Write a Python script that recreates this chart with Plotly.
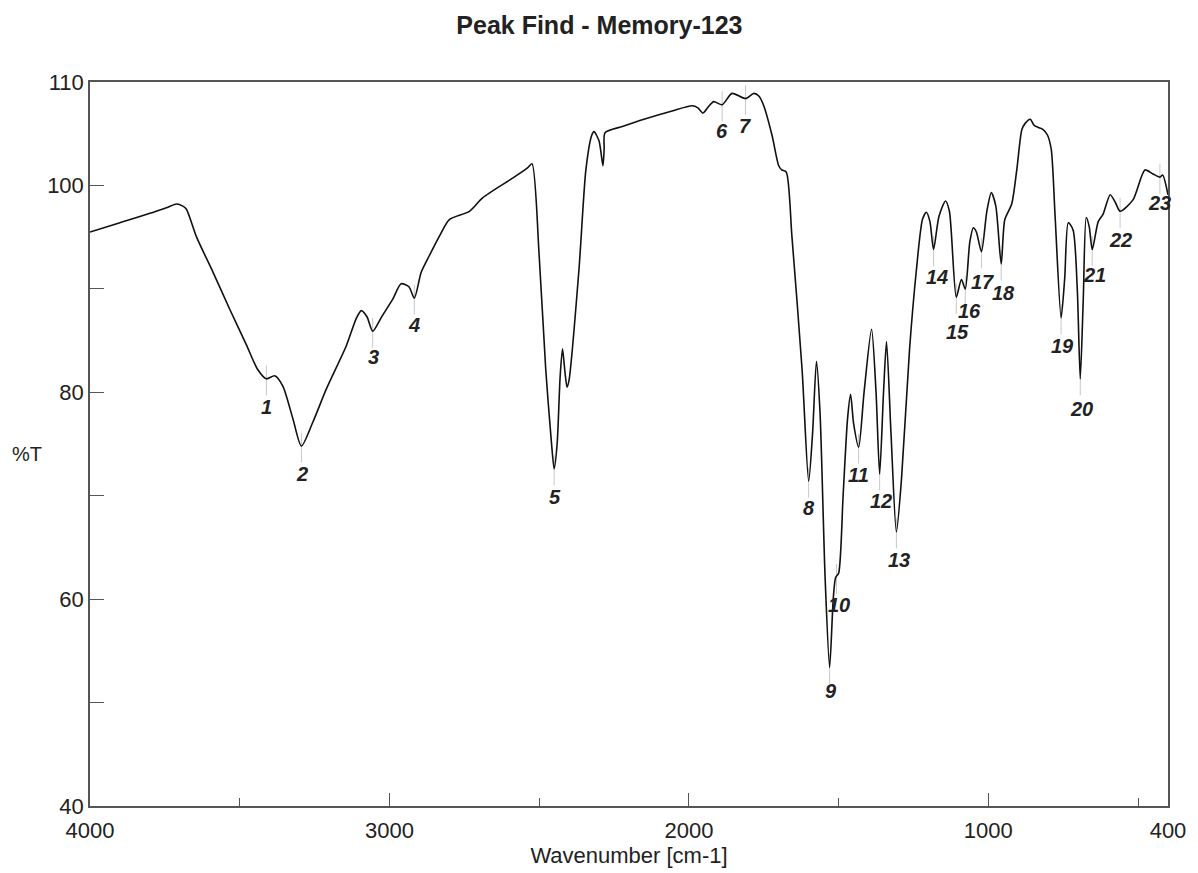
import plotly.graph_objects as go

wavenumber = [4000, 3900, 3800, 3740, 3711, 3690, 3678, 3644, 3589, 3533, 3478, 3440, 3411, 3383, 3356,
              3322, 3294, 3256, 3211, 3144, 3110, 3094, 3075, 3056, 3028, 2989, 2961, 2935, 2917, 2894,
              2867, 2833, 2800, 2733, 2689, 2589, 2539, 2524, 2500, 2478, 2460, 2450, 2440, 2430, 2422,
              2414, 2407, 2400, 2367, 2344, 2325, 2317, 2300, 2287, 2283, 2280, 2222, 2150, 2056, 1989,
              1970, 1953, 1935, 1917, 1889, 1856, 1811, 1783, 1765, 1750, 1722, 1700, 1690, 1675, 1656,
              1622, 1600, 1587, 1574, 1562, 1545, 1530, 1518, 1510, 1500, 1485, 1470, 1460, 1450, 1433,
              1415, 1390, 1375, 1363, 1350, 1340, 1325, 1307, 1290, 1263, 1240, 1220, 1207, 1195, 1183,
              1165, 1143, 1130, 1107, 1090, 1077, 1062, 1050, 1040, 1023, 1005, 990, 975, 957, 945,
              922, 905, 888, 877, 860, 847, 833, 817, 803, 790, 777, 757, 745, 733, 717,
              703, 693, 683, 673, 663, 653, 633, 617, 593, 575, 560, 517, 477, 450, 427,
              418, 400]
transmittance = [95.5, 96.4, 97.3, 97.9, 98.2, 98.0, 97.7, 95.0, 91.6, 88.0, 84.6, 82.2, 81.3, 81.6, 80.6,
                 77.4, 74.8, 77.1, 80.3, 84.5, 87.2, 87.9, 87.3, 85.9, 87.2, 89.0, 90.5, 90.2, 89.1, 91.6,
                 93.2, 95.1, 96.7, 97.5, 98.8, 100.7, 101.7, 102.1, 93.2, 82.2, 75.5, 72.6, 75.0, 81.5, 84.2,
                 82.0, 80.5, 81.2, 91.9, 101.5, 104.8, 105.2, 104.3, 101.9, 103.5, 105.1, 105.7, 106.4, 107.2, 107.7,
                 107.5, 107.0, 107.6, 108.1, 107.8, 108.9, 108.4, 108.9, 108.6, 107.7, 104.8, 101.9, 101.5, 101.3, 95.1,
                 82.2, 71.4, 76.0, 83.0, 78.0, 62.0, 53.4, 60.0, 62.1, 62.5, 70.0, 77.5, 79.8, 77.0, 74.7,
                 80.0, 86.1, 80.0, 72.1, 80.0, 84.9, 76.0, 66.5, 71.6, 84.2, 91.9, 96.7, 97.4, 96.5, 93.8,
                 97.0, 98.5, 97.5, 89.2, 90.9, 90.0, 94.5, 95.9, 95.5, 93.6, 97.5, 99.3, 98.0, 92.4, 96.7,
                 98.2, 101.5, 105.4, 106.0, 106.4, 105.8, 105.6, 105.4, 104.9, 103.5, 97.0, 87.2, 91.0, 96.4, 95.7,
                 90.0, 81.3, 89.0, 96.9, 96.0, 93.8, 96.5, 97.2, 99.1, 98.3, 97.5, 98.6, 101.5, 101.1, 100.8,
                 101.0, 99.1]

peak_labels = [str(i) for i in range(1, 24)]
peak_wn = [3411, 3294, 3056, 2917, 2450, 1889, 1811, 1600, 1530, 1507, 1433, 1363, 1307, 1183, 1107,
           1077, 1023, 957, 757, 693, 653, 560, 427]
peak_val = [81.3, 74.8, 85.9, 89.1, 72.6, 107.8, 108.4, 71.4, 53.4, 62.1, 74.7, 72.1, 66.5, 93.8, 89.2,
            90.0, 93.6, 92.4, 87.2, 81.3, 93.8, 97.5, 100.8]
label_wn = [3410, 3293, 3053, 2917, 2447, 1890, 1813, 1600, 1527, 1500, 1433, 1360, 1300, 1173, 1103,
            1063, 1020, 950, 753, 690, 647, 557, 427]
label_val = [78.6, 72.1, 83.4, 86.5, 69.9, 105.3, 105.7, 68.8, 51.1, 59.4, 72.0, 69.5, 63.8, 91.1, 85.8,
             87.9, 90.7, 89.6, 84.5, 78.4, 91.3, 94.7, 98.3]

x_tick_vals = [4000, 3000, 2000, 1000, 400]
y_tick_vals = [110, 100, 90, 80, 70, 60, 50, 40]
y_tick_text = ["110", "100", "", "80", "", "60", "", "40"]

fig = go.Figure()
fig.add_trace(go.Scatter(
    x=wavenumber, y=transmittance, mode="lines",
    line=dict(color="#111111", width=1.6, shape="spline", smoothing=0.7),
    hoverinfo="skip", showlegend=False,
))

shapes = []
for wn, v in zip(peak_wn, peak_val):
    shapes.append(dict(type="line", xref="x", yref="y", x0=wn, x1=wn, y0=v + 1.3, y1=v - 1.6,
                       line=dict(color="#c8c8c8", width=1), layer="below"))

fig.update_layout(
    width=1190, height=865,
    margin=dict(l=82, r=26, t=74, b=66),
    paper_bgcolor="white", plot_bgcolor="white",
    title=dict(text="<b>Peak Find - Memory-123</b>", x=0.497, xanchor="center", y=0.98, yanchor="middle",
               font=dict(family="Liberation Sans, Arial", size=25, color="#222")),
    shapes=shapes,
    showlegend=False,
)
for t, wn, v in zip(peak_labels, label_wn, label_val):
    fig.add_annotation(x=wn, y=v, xref="x", yref="y", text="<b><i>%s</i></b>" % t,
                       showarrow=False, font=dict(family="Liberation Sans, Arial", size=20, color="#222"))
fig.add_annotation(x=-0.074, y=0.4855, xref="paper", yref="paper", xanchor="left", yanchor="middle",
                   text="%T", showarrow=False,
                   font=dict(family="Liberation Sans, Arial", size=20, color="#222"))

fig.update_xaxes(
    range=[4000, 400], autorange=False,
    tickvals=x_tick_vals, ticktext=[str(v) for v in x_tick_vals],
    ticks="inside", ticklen=13, tickwidth=1, tickcolor="#555",
    minor=dict(tick0=500, dtick=1000, ticks="inside", ticklen=8, tickcolor="#555", tickwidth=1),
    showgrid=False, zeroline=False,
    showline=True, linecolor="#555", linewidth=1.5, mirror=True,
    ticklabelstandoff=4,
    tickfont=dict(family="Liberation Sans, Arial", size=22, color="#222"),
    title=dict(text="Wavenumber [cm-1]", standoff=2,
               font=dict(family="Liberation Sans, Arial", size=22, color="#222")),
)
fig.update_yaxes(
    range=[40, 110], autorange=False,
    tickvals=y_tick_vals, ticktext=y_tick_text,
    ticks="inside", ticklen=14, tickwidth=1, tickcolor="#555",
    showgrid=False, zeroline=False,
    showline=True, linecolor="#555", linewidth=1.5, mirror=True,
    tickfont=dict(family="Liberation Sans, Arial", size=22, color="#222"),
)

fig.write_html("out.html")
